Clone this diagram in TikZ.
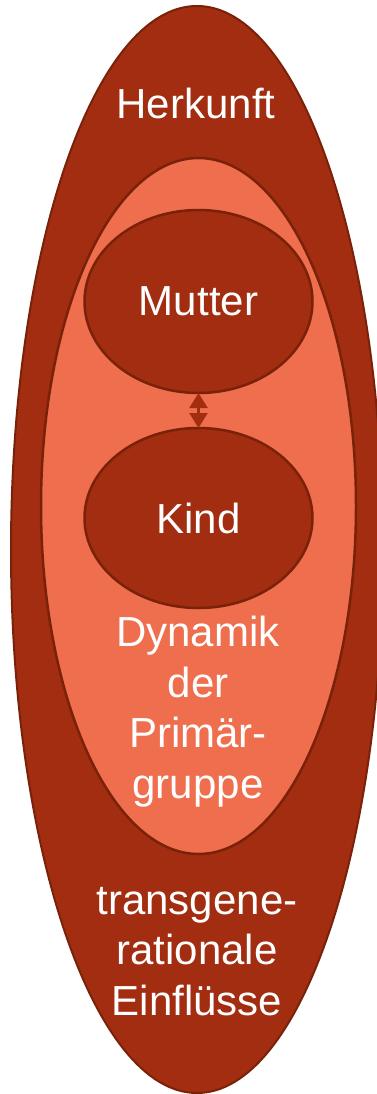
\documentclass[tikz,border=0pt]{standalone}
\usepackage{fontspec}
\setmainfont{Liberation Sans}
\usetikzlibrary{shapes.geometric,arrows.meta}
\definecolor{darkred}{HTML}{A22D10}
\definecolor{lightred}{HTML}{EF6E4D}
\definecolor{edge}{HTML}{7A2209}
\tikzset{
  blob/.style={ellipse, draw=edge, inner sep=0pt, outer sep=0pt},
  lbl/.style={text=white, font=\fontsize{42}{50.5}\selectfont, align=center, inner sep=0pt},
  link/.style={{Triangle[width=18pt 0,length=15pt 0]}-{Triangle[width=18pt 0,length=15pt 0]}, draw=darkred, fill=darkred, line width=2.5pt}
}
\begin{document}
\begin{tikzpicture}[x=1pt,y=-1pt]
\useasboundingbox (0,0) rectangle (376,1094);
\node[blob, fill=darkred, line width=2pt, minimum width=372pt, minimum height=1087pt] (outer) at (197,549.5) {};
\node[blob, fill=lightred, line width=2.5pt, minimum width=315pt, minimum height=696pt] (inner) at (198.5,506) {};
\node[blob, fill=darkred, line width=2.5pt, minimum width=228pt, minimum height=183pt, lbl] (mutter) at (198.5,301.5) {Mutter};
\node[blob, fill=darkred, line width=2.5pt, minimum width=228pt, minimum height=180pt, lbl] (kind) at (198.5,518) {Kind};
\draw[link] (mutter.south) -- (kind.north);
\node[lbl, anchor=base] (herkunft) at (196,119) {Herkunft};
\node[lbl, anchor=base] (dynamik) at (198,798) {Dynamik\\der\\Primär-\\gruppe};
\node[lbl, anchor=base] (trans) at (197,1015) {transgene-\\rationale\\Einflüsse};
\end{tikzpicture}
\end{document}
